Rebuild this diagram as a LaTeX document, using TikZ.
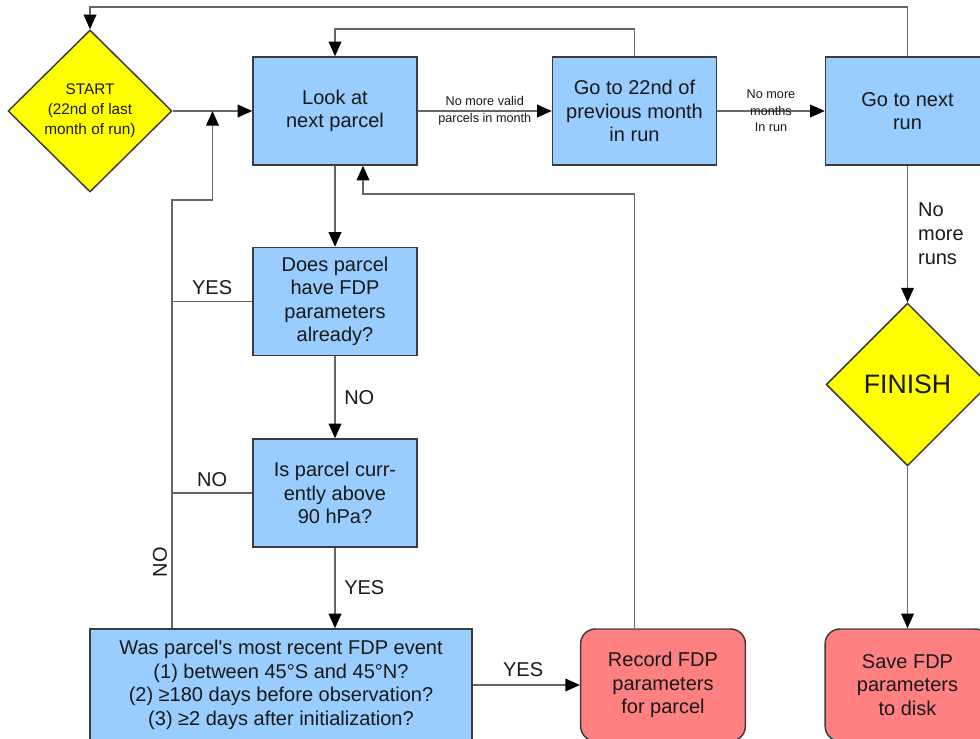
\documentclass[tikz,border=0pt]{standalone}
\usepackage{fontspec}
\setmainfont{Liberation Sans}
\usepackage{tikz}
\usetikzlibrary{positioning,shapes,arrows.meta,calc}

\definecolor{boxblue}{HTML}{99CCFF}
\definecolor{boxred}{HTML}{FF8080}
\definecolor{boxyellow}{HTML}{FFFF00}
\definecolor{edgegray}{HTML}{3C3C3C}
\definecolor{linegray}{HTML}{666666}

\begin{document}
\begin{tikzpicture}[x=0.75pt,y=-0.75pt,
	every node/.style={text=black!90},
	proc/.style={rectangle,draw=edgegray,fill=boxblue,line width=1.1pt,align=center,
		minimum width=123pt,minimum height=81pt,inner sep=2pt,
		font=\fontsize{15}{17.6}\selectfont},
	term/.style={rectangle,rounded corners=11pt,draw=edgegray,fill=boxred,line width=1.1pt,align=center,
		minimum width=123.5pt,minimum height=84pt,inner sep=2pt,
		font=\fontsize{15}{17.6}\selectfont},
	dec/.style={diamond,draw=edgegray,fill=boxyellow,line width=1.1pt,align=center,inner sep=0pt},
	conn/.style={draw=linegray,line width=1.2pt},
	arr/.style={conn,-{Triangle[length=11pt,width=9.5pt,black]}},
	lbl/.style={font=\fontsize{15}{18}\selectfont},
	small/.style={font=\fontsize{9.5}{12.5}\selectfont,align=center}]
	\useasboundingbox (0,0) rectangle (980,738);
	\clip (0,0) rectangle (980,738);
	% nodes
	\node[dec,minimum width=123pt,minimum height=121.5pt,font=\fontsize{11.5}{15}\selectfont] (start) at (90,111) {START\\(22nd of last\\month of run)};
	\node[proc] (look) at (335,111) {Look at\\next parcel};
	\node[proc] (prev) at (634.5,111) {Go to 22nd of\\previous month\\in run};
	\node[proc] (nextrun) at (907.5,111) {Go to next\\run};
	\node[proc] (have) at (335,301.5) {Does parcel\\have FDP\\parameters\\already?};
	\node[proc] (above) at (335,493) {Is parcel curr-\\ently above\\90 hPa?};
	\node[proc,minimum width=286.5pt,minimum height=84pt] (event) at (281,685) {Was parcel\textquotesingle s most recent FDP event\\(1) between 45°S and 45°N?\\(2) ≥180 days before observation?\\(3) ≥2 days after initialization?};
	\node[term] (record) at (663,685) {Record FDP\\parameters\\for parcel};
	\node[dec,minimum width=122pt,minimum height=122pt,font=\fontsize{20}{24}\selectfont] (finish) at (907.5,384.5) {FINISH};
	\node[term] (save) at (907.5,685) {Save FDP\\parameters\\to disk};
	\coordinate (join) at ($(start.east)!0.5!(look.west)$);
	\coordinate (rail) at (172,200);
	\coordinate (lookin) at ($(look.south)+(28,0)$);
	% main flow
	\draw[arr] (start) -- (look);
	\draw[arr] (look) -- (prev) node[small,midway] {No more valid\\parcels in month};
	\draw[arr] (prev) -- (nextrun) node[small,midway] {No more\\months\\In run};
	\draw[arr] (nextrun) -- (finish) node[lbl,pos=0.5,right=4pt,align=left] {No\\more\\runs};
	\draw[arr] (finish) -- (save);
	\draw[arr] (look) -- (have);
	\draw[arr] (have) -- (above) node[lbl,midway,right=3pt] {NO};
	\draw[arr] (above.south) -- (above.south |- event.north) node[lbl,midway,right=3pt] {YES};
	\draw[arr] (event.east |- record.west) -- (record.west) node[lbl,pos=0.47,above=2pt] {YES};
	% loops back
	\draw[arr] (nextrun.north) -- ++(0,-49) -| (start.north);
	\draw[arr] (prev.north) -- ++(0,-27) -| (look.north);
	\draw[arr] (record.north -| prev.south) |- ($(lookin)+(0,28)$) -- (lookin);
	\draw[arr] (event.north -| rail) -- (rail) -| (join);
	\draw[conn] (have.west) -- (have.west -| rail) node[lbl,midway,above=1pt] {YES};
	\draw[conn] (above.west) -- (above.west -| rail) node[lbl,midway,above=1pt] {NO};
	\node[lbl,rotate=90] (nolbl) at (160,562) {NO};
\end{tikzpicture}
\end{document}
